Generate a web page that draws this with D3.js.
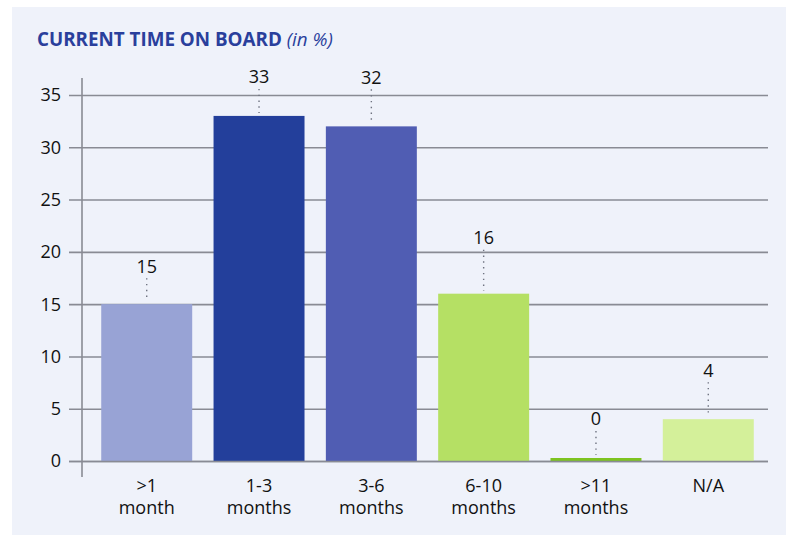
<!DOCTYPE html>
<html>
<head>
<meta charset="utf-8">
<script src="https://cdn.jsdelivr.net/npm/d3@7/dist/d3.min.js"></script>
<style>
  html, body { margin: 0; padding: 0; background: #ffffff; }
  svg { display: block; }
  text { font-family: "Open Sans", "Noto Sans", sans-serif; }
</style>
</head>
<body>
<svg id="chart" width="786" height="535"></svg>
<script>
// Share of respondents by current time on board (in %)
const categories = [">1|month", "1-3|months", "3-6|months", "6-10|months", ">11|months", "N/A"];
const values = [15, 33, 32, 16, 0, 4];
const barColors = ["#98a3d5", "#233f9b", "#505db3", "#b5e064", "#7dc31f", "#d4f09a"];
const yTicks = [0, 5, 10, 15, 20, 25, 30, 35];

// how far each value label sits above its bar (px), so labels clear each other
const labelLift = [38, 39, 49, 56, 39, 49];

const svg = d3.select("#chart");

// panel background
svg.append("rect")
  .attr("x", 12).attr("y", 7)
  .attr("width", 774).attr("height", 528)
  .attr("fill", "#eff2fa");

// title, bold part sized to its set width
const title = svg.append("text")
  .attr("x", 37).attr("y", 46)
  .attr("fill", "#2a3f9c")
  .style("font-size", "18px");
const tBold = title.append("tspan").attr("font-weight", "bold").text("CURRENT TIME ON BOARD");
const w = tBold.node().getComputedTextLength();
const titleSize = 18 * 245 / w;
title.style("font-size", titleSize + "px");
title.append("tspan").attr("font-style", "italic").text(" (in %)");

const plotLeft = 82, plotRight = 768, plotTop = 78, plotBottom = 461;

const x = d3.scaleBand()
  .domain(categories)
  .range([90, 765])
  .paddingInner(0.19)
  .paddingOuter(0.1);

const y = d3.scaleLinear()
  .domain([0, 35])
  .range([plotBottom, 95]);

const gridColor = "#898b94";

// horizontal gridlines with tick stubs to the left of the axis
const yAxis = d3.axisLeft(y)
  .tickValues(yTicks)
  .tickSize(-(plotRight - plotLeft))
  .tickPadding(0)
  .tickFormat("");
const yg = svg.append("g")
  .attr("transform", `translate(${plotLeft},0)`)
  .call(yAxis);
yg.select(".domain").remove();
yg.selectAll(".tick line")
  .attr("x1", -13)
  .attr("stroke", gridColor)
  .attr("stroke-width", 1.6);

// tick labels
svg.append("g").selectAll("text")
  .data(yTicks)
  .join("text")
  .attr("x", 61)
  .attr("y", d => y(d))
  .attr("dy", "0.36em")
  .attr("text-anchor", "end")
  .attr("fill", "#111")
  .style("font-size", "18px")
  .text(d => d);

// bars (a zero value keeps a thin visible stub)
const minStub = 3;
const barTop = d => Math.min(y(d), plotBottom - minStub);
svg.append("g").selectAll("rect")
  .data(values)
  .join("rect")
  .attr("x", (d, i) => x(categories[i]))
  .attr("width", x.bandwidth())
  .attr("y", d => barTop(d))
  .attr("height", d => plotBottom - barTop(d))
  .attr("fill", (d, i) => barColors[i]);

// zero line over the bar bases
svg.append("line")
  .attr("x1", plotLeft - 13).attr("x2", plotRight)
  .attr("y1", y(0) + 0.5).attr("y2", y(0) + 0.5)
  .attr("stroke", gridColor).attr("stroke-width", 1.6);

// vertical axis line
svg.append("line")
  .attr("x1", plotLeft).attr("x2", plotLeft)
  .attr("y1", plotTop).attr("y2", 477)
  .attr("stroke", gridColor).attr("stroke-width", 1.6);

// value labels with dotted leaders
const lab = svg.append("g").selectAll("g")
  .data(values)
  .join("g")
  .attr("transform", (d, i) => `translate(${x(categories[i]) + x.bandwidth() / 2},${barTop(d)})`);
lab.append("line")
  .attr("x1", 0).attr("x2", 0)
  .attr("y1", (d, i) => -labelLift[i] + 12).attr("y2", -3)
  .attr("stroke", "#6f7380")
  .attr("stroke-width", 1.4)
  .attr("stroke-dasharray", "1.4,4.4");
lab.append("text")
  .attr("y", (d, i) => -labelLift[i])
  .attr("dy", "0.36em")
  .attr("text-anchor", "middle")
  .attr("fill", "#111")
  .style("font-size", "18px")
  .text(d => d);

// category labels
const xl = svg.append("g").selectAll("text")
  .data(categories)
  .join("text")
  .attr("x", d => x(d) + x.bandwidth() / 2)
  .attr("y", 492)
  .attr("text-anchor", "middle")
  .attr("fill", "#111")
  .style("font-size", "18px");
xl.selectAll("tspan")
  .data(d => d.split("|").map(s => ({ s, cx: x(d) + x.bandwidth() / 2 })))
  .join("tspan")
  .attr("x", t => t.cx)
  .attr("dy", (t, j) => j === 0 ? 0 : 22)
  .text(t => t.s);
</script>
</body>
</html>
